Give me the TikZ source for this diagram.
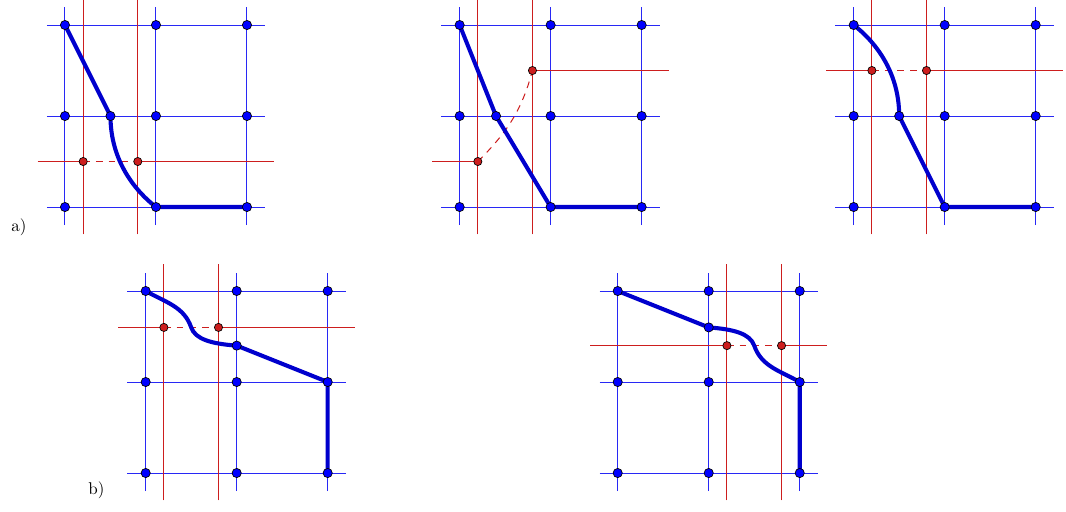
\documentclass[tikz,border=0pt]{standalone}
\usepackage{tikz}
\usetikzlibrary{positioning}
\definecolor{gridblue}{RGB}{40,40,245}
\definecolor{dualred}{RGB}{205,30,30}
\definecolor{routeblue}{RGB}{0,0,205}

\begin{document}
\begin{tikzpicture}[
    x=1.88cm, y=1.88cm,
    gridline/.style={draw=gridblue, line width=0.6pt},
    dualline/.style={draw=dualred, line width=0.6pt},
    dualdash/.style={draw=dualred, line width=0.6pt, dash pattern=on 4pt off 3.5pt},
    vtx/.style={circle, draw=black, line width=0.4pt, fill=blue, inner sep=0pt, minimum size=5.4pt},
    dvtx/.style={circle, draw=black, line width=0.4pt, fill=dualred, inner sep=0pt, minimum size=4.8pt},
    route/.style={draw=routeblue, line width=2.4pt, line join=round}
]
    \useasboundingbox (-0.714,-3.341) rectangle (11.0,2.275);

    % a) first
    \begin{scope}[shift={(0,0)}, name prefix=a1-]
        \foreach \i in {0,1,2} \foreach \j in {0,1,2}
            \coordinate (\i\j) at (\i,\j);
        \coordinate (m) at (0.5,1);
        \coordinate (d1) at (0.2,0.5);
        \coordinate (d2) at (0.8,0.5);
        \foreach \i in {0,1,2} {
            \draw[gridline] (-0.2,\i) -- (2.2,\i);
            \draw[gridline] (\i,-0.2) -- (\i,2.2);
        }
        \draw[dualline] (0.2,-0.3) -- (0.2,2.3);
        \draw[dualline] (0.8,-0.3) -- (0.8,2.3);
        \draw[dualline] (-0.3,0.5) -- (d1);
        \draw[dualline] (d2) -- (2.3,0.5);
        \draw[dualdash] (d1) -- (d2);
        \draw[route] (02) -- (m) .. controls (0.5,0.5) and (0.78,0.17) .. (10) -- (20);
        \foreach \i in {0,1,2} \foreach \j in {0,1,2}
            \node[vtx] (v\i\j) at (\i\j) {};
        \node[vtx] (vm) at (m) {};
        \node[dvtx] (vd1) at (d1) {};
        \node[dvtx] (vd2) at (d2) {};
    \end{scope}

    % a) second
    \begin{scope}[shift={(4.337,0)}, name prefix=a2-]
        \foreach \i in {0,1,2} \foreach \j in {0,1,2}
            \coordinate (\i\j) at (\i,\j);
        \coordinate (m) at (0.4,1);
        \coordinate (d1) at (0.2,0.5);
        \coordinate (d2) at (0.8,1.5);
        \foreach \i in {0,1,2} {
            \draw[gridline] (-0.2,\i) -- (2.2,\i);
            \draw[gridline] (\i,-0.2) -- (\i,2.2);
        }
        \draw[dualline] (0.2,-0.3) -- (0.2,2.3);
        \draw[dualline] (0.8,-0.3) -- (0.8,2.3);
        \draw[dualline] (-0.3,0.5) -- (d1);
        \draw[dualline] (d2) -- (2.3,1.5);
        \draw[dualdash] (d1) to[out=45,in=-105] (d2);
        \draw[route] (02) -- (m) -- (10) -- (20);
        \foreach \i in {0,1,2} \foreach \j in {0,1,2}
            \node[vtx] (v\i\j) at (\i\j) {};
        \node[vtx] (vm) at (m) {};
        \node[dvtx] (vd1) at (d1) {};
        \node[dvtx] (vd2) at (d2) {};
    \end{scope}

    % a) third
    \begin{scope}[shift={(8.667,0)}, name prefix=a3-]
        \foreach \i in {0,1,2} \foreach \j in {0,1,2}
            \coordinate (\i\j) at (\i,\j);
        \coordinate (m) at (0.5,1);
        \coordinate (d1) at (0.2,1.5);
        \coordinate (d2) at (0.8,1.5);
        \foreach \i in {0,1,2} {
            \draw[gridline] (-0.2,\i) -- (2.2,\i);
            \draw[gridline] (\i,-0.2) -- (\i,2.2);
        }
        \draw[dualline] (0.2,-0.3) -- (0.2,2.3);
        \draw[dualline] (0.8,-0.3) -- (0.8,2.3);
        \draw[dualline] (-0.3,1.5) -- (d1);
        \draw[dualline] (d2) -- (2.3,1.5);
        \draw[dualdash] (d1) -- (d2);
        \draw[route] (02) .. controls (0.22,1.83) and (0.5,1.5) .. (m) -- (10) -- (20);
        \foreach \i in {0,1,2} \foreach \j in {0,1,2}
            \node[vtx] (v\i\j) at (\i\j) {};
        \node[vtx] (vm) at (m) {};
        \node[dvtx] (vd1) at (d1) {};
        \node[dvtx] (vd2) at (d2) {};
    \end{scope}

    % b) first
    \begin{scope}[shift={(0.887,-2.923)}, name prefix=b1-]
        \foreach \i in {0,1,2} \foreach \j in {0,1,2}
            \coordinate (\i\j) at (\i,\j);
        \coordinate (m) at (1,1.4);
        \coordinate (d1) at (0.2,1.6);
        \coordinate (d2) at (0.8,1.6);
        \foreach \i in {0,1,2} {
            \draw[gridline] (-0.2,\i) -- (2.2,\i);
            \draw[gridline] (\i,-0.2) -- (\i,2.2);
        }
        \draw[dualline] (0.2,-0.3) -- (0.2,2.3);
        \draw[dualline] (0.8,-0.3) -- (0.8,2.3);
        \draw[dualline] (-0.3,1.6) -- (d1);
        \draw[dualline] (d2) -- (2.3,1.6);
        \draw[dualdash] (d1) -- (d2);
        \draw[route] (02) .. controls (0.22,1.875) and (0.42,1.83) .. (0.5,1.6)
            .. controls (0.545,1.47) and (0.72,1.42) .. (m) -- (21) -- (20);
        \foreach \i in {0,1,2} \foreach \j in {0,1,2}
            \node[vtx] (v\i\j) at (\i\j) {};
        \node[vtx] (vm) at (m) {};
        \node[dvtx] (vd1) at (d1) {};
        \node[dvtx] (vd2) at (d2) {};
    \end{scope}

    % b) second
    \begin{scope}[shift={(6.074,-2.923)}, name prefix=b2-]
        \foreach \i in {0,1,2} \foreach \j in {0,1,2}
            \coordinate (\i\j) at (\i,\j);
        \coordinate (m) at (1,1.6);
        \coordinate (d1) at (1.2,1.4);
        \coordinate (d2) at (1.8,1.4);
        \foreach \i in {0,1,2} {
            \draw[gridline] (-0.2,\i) -- (2.2,\i);
            \draw[gridline] (\i,-0.2) -- (\i,2.2);
        }
        \draw[dualline] (1.2,-0.3) -- (1.2,2.3);
        \draw[dualline] (1.8,-0.3) -- (1.8,2.3);
        \draw[dualline] (-0.3,1.4) -- (d1);
        \draw[dualline] (d2) -- (2.3,1.4);
        \draw[dualdash] (d1) -- (d2);
        \draw[route] (02) -- (m) .. controls (1.28,1.58) and (1.455,1.53) .. (1.5,1.4)
            .. controls (1.58,1.17) and (1.78,1.125) .. (21) -- (20);
        \foreach \i in {0,1,2} \foreach \j in {0,1,2}
            \node[vtx] (v\i\j) at (\i\j) {};
        \node[vtx] (vm) at (m) {};
        \node[dvtx] (vd1) at (d1) {};
        \node[dvtx] (vd2) at (d2) {};
    \end{scope}

    % Labels
    \node (lbla) at (-0.505,-0.22) {a)};
    \node (lblb) at (0.346,-3.11) {b)};
\end{tikzpicture}
\end{document}
